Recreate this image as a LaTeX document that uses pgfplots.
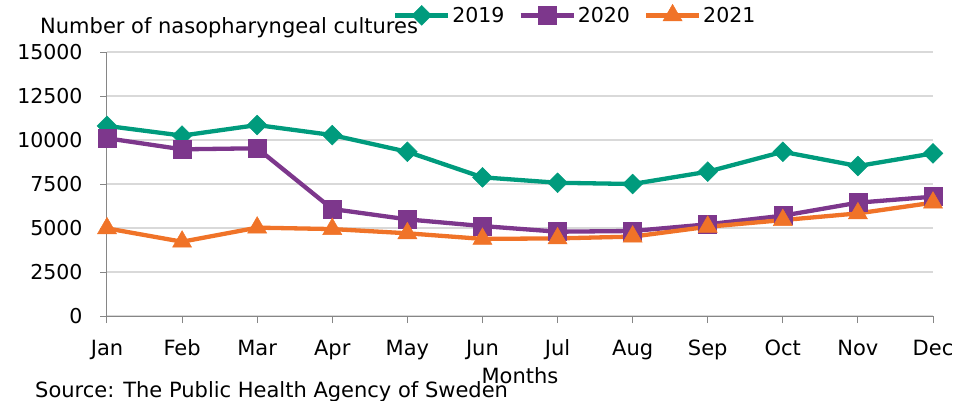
\documentclass[border=0pt]{standalone}
\usepackage{pgfplots}
\pgfplotsset{compat=1.18}
\usepackage{fontspec}
\setmainfont{DejaVu Sans}
\definecolor{cgreen}{RGB}{0,155,125}
\definecolor{cpurple}{RGB}{125,55,140}
\definecolor{corange}{RGB}{240,115,40}
\definecolor{cgrid}{RGB}{217,217,217}
\definecolor{caxis}{RGB}{134,134,134}
\begin{document}
\begin{tikzpicture}
\useasboundingbox (-107pt,-84pt) rectangle (864pt,316pt);
\begin{axis}[
  at={(0pt,0pt)}, anchor=south west,
  scale only axis, width=826pt, height=264pt,
  xmin=0, xmax=11, ymin=0, ymax=15000,
  xtick={0,...,11},
  xticklabels={Jan,Feb,Mar,Apr,May,Jun,Jul,Aug,Sep,Oct,Nov,Dec},
  ytick={0,2500,5000,7500,10000,12500,15000},
  scaled y ticks=false,
  /pgf/number format/1000 sep={},
  /pgf/number format/assume math mode=true,
  axis x line*=bottom, axis y line*=left,
  axis line style={draw=caxis, line width=1pt},
  tick style={draw=caxis, line width=1pt},
  tick align=outside, major tick length=7pt,
  ymajorgrids, grid style={draw=cgrid, line width=1.3pt},
  yticklabel style={anchor=east, xshift=-14pt, font=\fontsize{20.5}{24}\selectfont},
  xticklabel style={anchor=north, yshift=-17pt, text height=15pt, text depth=4pt, inner sep=0pt, font=\fontsize{21}{24}\selectfont},
  legend columns=3,
  legend style={at={(rel axis cs:0.346,1.14)}, anchor=west, draw=none, fill=none,
    font=\fontsize{20.5}{24}\selectfont, inner sep=0pt,
    /tikz/every even column/.append style={column sep=12pt}},
  legend image code/.code={%
    \draw[#1, mark repeat=2, mark phase=2] plot coordinates {(0pt,0pt) (26.5pt,0pt) (53pt,0pt)};},
  every axis plot/.append style={line width=4.3pt},
  clip=false,
]
\addplot[cgreen, mark=square*, mark size=7pt, mark options={rotate=45, line width=0.5pt}]
  coordinates {(0,10800) (1,10250) (2,10850) (3,10280) (4,9330) (5,7880) (6,7570) (7,7500) (8,8200) (9,9330) (10,8520) (11,9240)};
\addplot[cpurple, mark=square*, mark size=9pt, mark options={line width=0.5pt}]
  coordinates {(0,10100) (1,9470) (2,9530) (3,6080) (4,5490) (5,5110) (6,4790) (7,4830) (8,5210) (9,5700) (10,6440) (11,6780)};
\addplot[corange, mark=triangle*, mark size=11pt, mark options={line width=0.5pt}]
  coordinates {(0,4980) (1,4220) (2,5020) (3,4940) (4,4700) (5,4380) (6,4410) (7,4510) (8,5070) (9,5450) (10,5830) (11,6440)};
\legend{2019,2020,2021}
\end{axis}
\node[anchor=base west, inner sep=0pt, font=\fontsize{21}{24}\selectfont] at (-67pt,283pt) {Number of nasopharyngeal cultures};
\node[anchor=base west, inner sep=0pt, font=\fontsize{21}{24}\selectfont] at (-72pt,-81pt) {Source: The Public Health Agency of Sweden};
\node[anchor=base, inner sep=0pt, font=\fontsize{21}{24}\selectfont] at (413pt,-67pt) {Months};
\end{tikzpicture}
\end{document}
